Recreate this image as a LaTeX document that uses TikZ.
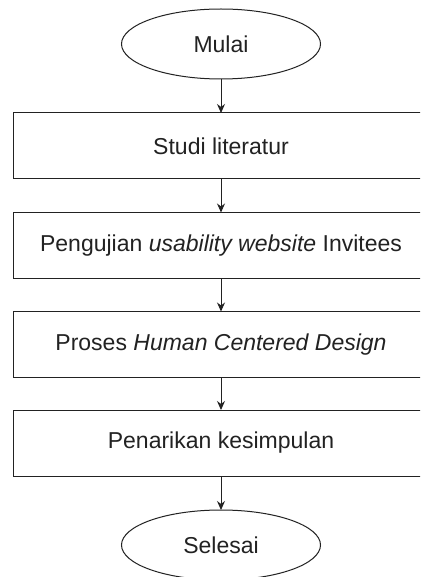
\documentclass[tikz,border=0pt]{standalone}
\usepackage{fontspec}
\setmainfont{Liberation Sans}
\usetikzlibrary{shapes.geometric,arrows.meta}
\definecolor{ink}{HTML}{222222}
\tikzset{
  base/.style={draw=ink, line width=1pt, outer sep=0pt, inner sep=0pt, text=ink,
    font=\fontsize{23}{27}\selectfont},
  term/.style={base, ellipse, minimum width=199pt, minimum height=70pt},
  procbox/.style={base, rectangle, minimum width=416pt, minimum height=66pt},
  flow/.style={draw=ink, line width=1pt, -{Stealth[length=9pt,width=8pt]}}
}
\begin{document}
\begin{tikzpicture}[x=1pt,y=-1pt]
\useasboundingbox (0,0) rectangle (420,577);
\clip (0,0) rectangle (420,577);
\fill[white] (0,0) rectangle (420,577);
\node[term] (mulai) at (221,44) {Mulai};
\node[procbox] (studi) at (221,146) {Studi literatur};
\node[procbox] (uji) at (221,245.5) {Pengujian \textit{usability website} Invitees};
\node[procbox] (hcd) at (221,344.5) {Proses \textit{Human Centered Design}};
\node[procbox] (simpul) at (221,443) {Penarikan kesimpulan};
\node[term] (selesai) at (221,545) {Selesai};
\draw[flow] (mulai) -- (studi);
\draw[flow] (studi) -- (uji);
\draw[flow] (uji) -- (hcd);
\draw[flow] (hcd) -- (simpul);
\draw[flow] (simpul) -- (selesai);
\end{tikzpicture}
\end{document}
